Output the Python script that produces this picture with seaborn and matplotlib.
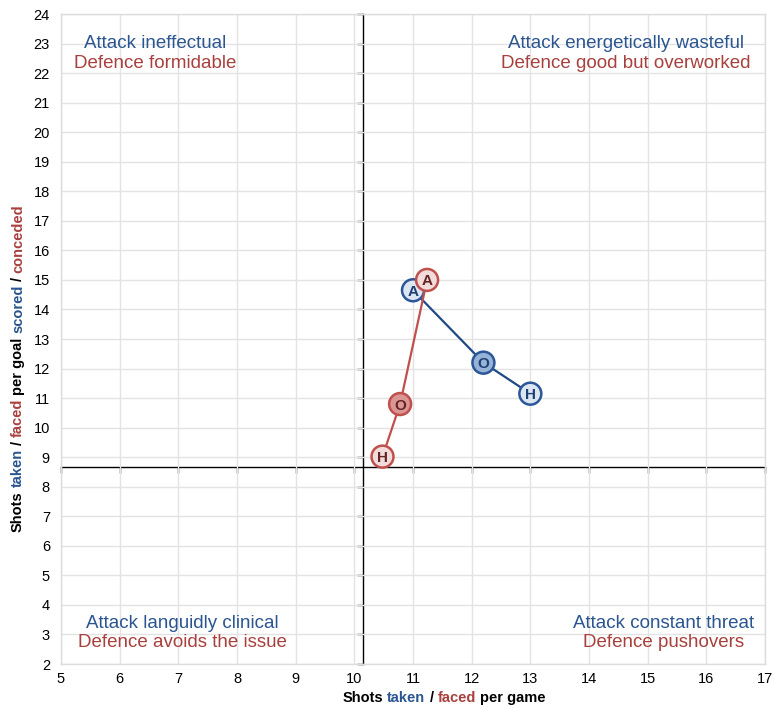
import pandas as pd
import matplotlib.pyplot as plt
import seaborn as sns

# attack (shots taken / scored) and defence (shots faced / conceded)
venues = ['H', 'O', 'A']
attack_shots = [13.0, 12.2, 11.0]
attack_per_goal = [11.15, 12.2, 14.65]
defence_shots = [10.48, 10.78, 11.24]
defence_per_goal = [9.02, 10.8, 15.0]

# where the axes cross (league average)
cross_x = 10.15
cross_y = 8.67

x_ticks = list(range(5, 18))
y_ticks = list(range(2, 25))

quadrants = [
    ('Attack ineffectual', 'Defence formidable', 0.1335, 0.954),
    ('Attack energetically wasteful', 'Defence good but overworked', 0.802, 0.954),
    ('Attack languidly clinical', 'Defence avoids the issue', 0.173, 0.063),
    ('Attack constant threat', 'Defence pushovers', 0.8565, 0.063),
]

BLUE_TXT = '#2b5590'
RED_TXT = '#a8403e'

attack = pd.DataFrame({'venue': venues, 'x': attack_shots, 'y': attack_per_goal})
defence = pd.DataFrame({'venue': venues, 'x': defence_shots, 'y': defence_per_goal})

sns.set_theme(style='white')
plt.rcParams['font.family'] = ['Liberation Sans', 'DejaVu Sans']

fig, ax = plt.subplots(figsize=(7.74, 7.08), dpi=100)
fig.subplots_adjust(left=0.0788, right=0.9884, top=0.9802, bottom=0.0621)

ax.set_xlim(x_ticks[0], x_ticks[-1])
ax.set_ylim(y_ticks[0], y_ticks[-1])
ax.set_xticks(x_ticks)
ax.set_yticks(y_ticks)
ax.grid(True, color='#e3e3e3', lw=1)
ax.tick_params(length=0, labelsize=10.5, colors='black')
ax.tick_params(axis='y', pad=8)
ax.tick_params(axis='x', pad=6)
for s in ax.spines.values():
    s.set_color('#dcdcdc')
    s.set_linewidth(1)

# crossing axes with tick marks
fx = (cross_x - x_ticks[0]) / (x_ticks[-1] - x_ticks[0])
fy = (cross_y - y_ticks[0]) / (y_ticks[-1] - y_ticks[0])
sx = ax.secondary_xaxis(fy)
sx.set_xticks(x_ticks)
sx.tick_params(direction='out', length=4, width=1, color='black', labelbottom=False)
sx.spines['bottom'].set_color('black')
sx.spines['bottom'].set_linewidth(1)
sy = ax.secondary_yaxis(fx)
sy.set_yticks(y_ticks)
sy.tick_params(direction='out', length=4, width=1, color='black', labelleft=False)
sy.spines['left'].set_color('black')
sy.spines['left'].set_linewidth(1)

series = [
    (attack, '#1f4a85', '#2c5697', {'H': '#dce6f2', 'O': '#95b3d7', 'A': '#dce6f2'}, '#1f3f73'),
    (defence, '#c0504d', '#c0504d', {'H': '#f2dcdb', 'O': '#d99694', 'A': '#f2dcdb'}, '#632523'),
]
z = 3
for df, line_col, edge_col, fills, txt_col in series:
    sns.lineplot(data=df, x='x', y='y', sort=False, color=line_col, lw=1.6, ax=ax, zorder=z)
    sns.scatterplot(data=df, x='x', y='y', hue='venue', palette=fills, s=250,
                    edgecolor=edge_col, linewidth=1.8, legend=False, ax=ax, zorder=z + 1)
    for _, row in df.iterrows():
        ax.text(row['x'], row['y'], row['venue'], ha='center', va='center_baseline',
                fontsize=11, fontweight='bold', color=txt_col, zorder=z + 2)
    z += 3

ax.set_xlabel('')
ax.set_ylabel('')

for att, dfn, qx, qy in quadrants:
    ax.text(qx, qy, att, transform=ax.transAxes, ha='center', va='center',
            fontsize=13.5, color=BLUE_TXT)
    ax.text(qx, qy - 0.0305, dfn, transform=ax.transAxes, ha='center', va='center',
            fontsize=13.5, color=RED_TXT)

# multi-coloured axis titles, built piece by piece
gap = 2.9
x_parts = [('Shots', 'black'), ('taken', BLUE_TXT), ('/', 'black'),
           ('faced', RED_TXT), ('per game', 'black')]
prev = ax.text(0.40, -0.0585, x_parts[0][0], transform=ax.transAxes, ha='left',
               va='baseline', fontsize=10.5, fontweight='bold', color=x_parts[0][1])
for word, col in x_parts[1:]:
    prev = ax.annotate(word, xy=(1, 0), xycoords=prev, xytext=(gap, 0),
                       textcoords='offset points', ha='left', va='bottom',
                       fontsize=10.5, fontweight='bold', color=col)

y_parts = [('Shots', 'black'), ('taken', BLUE_TXT), ('/', 'black'), ('faced', RED_TXT),
           ('per goal', 'black'), ('scored', BLUE_TXT), ('/', 'black'), ('conceded', RED_TXT)]
prev = ax.text(-0.061, 0.203, y_parts[0][0], transform=ax.transAxes, ha='center',
               va='bottom', rotation=90, fontsize=10.5, fontweight='bold', color=y_parts[0][1])
for word, col in y_parts[1:]:
    prev = ax.annotate(word, xy=(0.5, 1), xycoords=prev, xytext=(0, gap),
                       textcoords='offset points', ha='center', va='bottom', rotation=90,
                       fontsize=10.5, fontweight='bold', color=col)

plt.savefig('out.png', dpi=100)
